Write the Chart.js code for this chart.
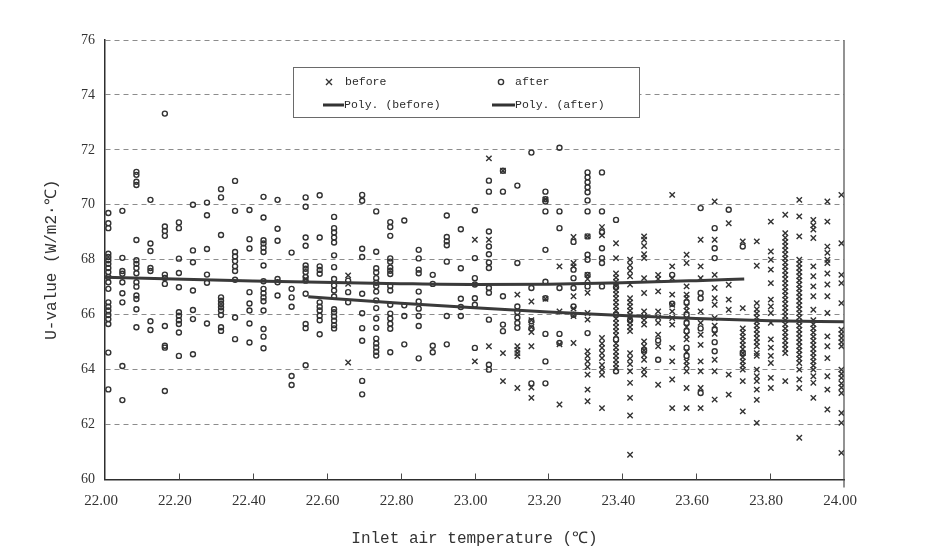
<!DOCTYPE html>
<html>
<head>
<meta charset="utf-8">
<title>U-value vs inlet air temperature</title>
<script src="https://cdn.jsdelivr.net/npm/chart.js@4.4.1/dist/chart.umd.min.js"></script>
<style>
  html, body { margin: 0; padding: 0; background: #ffffff; }
  #wrap { width: 929px; height: 559px; }
</style>
</head>
<body>
<div id="wrap"><canvas id="chart" width="929" height="559"></canvas></div>
<script>
// Column positions on the temperature axis (readings come in vertical columns)
const colX = [22.009, 22.047, 22.085, 22.123, 22.162, 22.200, 22.238, 22.276, 22.314, 22.352,
  22.391, 22.429, 22.467, 22.505, 22.543, 22.581, 22.620, 22.658, 22.696, 22.734,
  22.772, 22.810, 22.849, 22.887, 22.925, 22.963, 23.001, 23.039, 23.077, 23.116,
  23.154, 23.192, 23.230, 23.268, 23.306, 23.345, 23.383, 23.421, 23.459, 23.497,
  23.535, 23.574, 23.612, 23.650, 23.688, 23.726, 23.764, 23.802, 23.841, 23.879,
  23.917, 23.955, 23.993];

// "after" readings, one list per column
const afterCols = [
  [69.7, 69.33, 69.15, 68.22, 68.1, 67.98, 67.85, 67.7, 67.55, 67.37, 67.18, 66.94, 66.45, 66.29, 66.15, 65.99, 65.84, 65.66, 64.62, 63.28],
  [69.78, 68.07, 67.59, 67.49, 67.18, 66.78, 66.45, 64.13, 62.89],
  [71.2, 71.09, 70.84, 70.72, 68.72, 67.98, 67.85, 67.7, 67.51, 67.18, 67.02, 66.7, 66.57, 66.2, 65.54],
  [70.18, 68.59, 68.32, 67.7, 67.59, 65.76, 65.44],
  [73.32, 69.21, 69.05, 68.87, 67.46, 67.34, 67.12, 65.59, 64.87, 64.8, 63.22],
  [69.36, 69.15, 68.04, 67.52, 67.0, 66.09, 65.96, 65.8, 65.66, 65.35, 64.5],
  [70.0, 68.34, 67.91, 66.88, 66.17, 65.84, 64.56],
  [70.08, 69.62, 68.39, 67.46, 67.16, 65.68],
  [70.57, 70.27, 68.9, 66.63, 66.51, 66.39, 66.27, 66.15, 65.99, 65.54, 65.41],
  [70.87, 69.78, 68.28, 68.12, 67.95, 67.76, 67.59, 67.27, 65.9, 65.11],
  [69.81, 68.75, 68.41, 66.82, 66.41, 66.15, 65.68, 64.99],
  [70.29, 69.54, 68.71, 68.59, 68.44, 68.28, 67.79, 67.22, 66.94, 66.78, 66.63, 66.49, 66.15, 65.48, 65.2, 64.78],
  [70.18, 69.13, 68.69, 67.3, 67.18, 66.7],
  [68.26, 66.94, 66.63, 66.29, 63.77, 63.44],
  [70.27, 69.93, 68.81, 68.51, 67.79, 67.67, 67.55, 67.37, 67.24, 66.76, 65.66, 65.51, 64.16],
  [70.35, 68.81, 67.76, 67.63, 67.49, 66.45, 66.29, 66.15, 65.96, 65.8, 65.29],
  [69.56, 69.15, 68.99, 68.81, 68.63, 68.16, 67.73, 67.3, 67.06, 66.88, 66.66, 66.2, 66.09, 65.93, 65.78, 65.62, 65.5],
  [67.24, 66.82, 66.45],
  [70.36, 70.15, 68.4, 68.1, 66.76, 66.05, 65.51, 65.05, 63.59, 63.1],
  [69.76, 68.29, 67.69, 67.54, 67.33, 67.16, 67.04, 66.84, 66.52, 66.24, 65.86, 65.52, 65.13, 64.95, 64.81, 64.65, 64.51],
  [69.37, 69.19, 68.87, 68.05, 67.93, 67.72, 67.6, 67.48, 67.04, 66.88, 66.36, 66.04, 65.86, 65.67, 65.49, 64.63],
  [69.43, 66.34, 65.95, 64.92],
  [68.36, 68.05, 67.64, 67.51, 66.84, 66.48, 66.22, 65.95, 65.59, 64.41],
  [67.45, 67.12, 64.87, 64.63],
  [69.61, 68.83, 68.67, 68.53, 67.93, 65.95, 64.92],
  [69.11, 67.69, 66.58, 66.28, 65.95],
  [69.8, 68.06, 67.33, 67.1, 66.6, 66.36, 64.79],
  [70.88, 70.48, 69.03, 68.48, 68.2, 67.9, 67.7, 66.97, 66.8, 65.82, 64.18, 64.0],
  [71.24, 70.48, 66.67, 65.64, 65.4],
  [70.7, 67.88, 66.3, 66.1, 65.9, 65.7, 65.52],
  [71.9, 66.97, 65.76, 65.5, 63.5],
  [70.48, 70.2, 70.12, 69.76, 68.36, 67.2, 66.6, 65.3, 64.3, 63.5],
  [72.08, 69.76, 69.15, 66.97, 65.3, 64.97],
  [68.65, 67.64, 67.33, 66.97, 66.3, 66.0],
  [71.18, 71.0, 70.82, 70.64, 70.46, 70.16, 69.76, 68.85, 68.18, 68.0, 67.45, 67.03, 65.33],
  [71.18, 69.76, 69.0, 68.42, 68.06, 67.88, 67.03],
  [69.45, 67.0, 66.0, 65.1, 63.94],
  [65.8],
  [64.7],
  [65.06, 64.36],
  [67.45, 66.4],
  [66.45, 66.0, 65.7, 65.4, 64.8, 64.5],
  [69.88, 66.79, 66.6, 65.5, 63.15],
  [69.15, 68.42, 68.06, 65.45, 65.0, 64.67],
  [69.82],
  [68.48, 64.6],
  [], [], [], [], [], [], []
];

// "before" readings, one list per column
const beforeCols = [
  [], [], [], [], [], [], [], [], [], [], [], [], [], [],
  [67.3],
  [], [],
  [67.43, 67.12, 64.26],
  [], [], [], [], [], [], [], [],
  [68.73, 64.3],
  [71.69, 68.73, 64.85],
  [71.24, 64.6, 63.58],
  [66.73, 64.85, 64.72, 64.6, 64.49, 63.33],
  [66.48, 65.8, 65.55, 65.37, 64.85, 63.35, 62.97],
  [70.2, 66.58],
  [67.76, 66.12, 64.92, 62.73],
  [68.83, 67.88, 67.76, 66.67, 66.22, 65.95, 64.97],
  [68.85, 67.45, 67.3, 66.8, 66.06, 65.82, 64.67, 64.5, 64.3, 64.1, 63.82, 63.27, 62.85],
  [69.19, 68.89, 65.15, 64.95, 64.79, 64.6, 64.42, 64.17, 64.0, 63.81, 62.6],
  [68.6, 68.06, 67.5, 67.35, 67.2, 67.05, 66.9, 66.75, 66.6, 66.45, 66.3, 66.15, 65.85, 65.7, 65.55, 65.4, 65.25, 64.95, 64.8, 64.65, 64.5, 64.35, 64.2, 64.05],
  [68.0, 67.8, 67.6, 67.4, 67.1, 66.6, 66.45, 66.3, 66.15, 66.0, 65.85, 65.7, 65.55, 65.4, 64.6, 64.4, 64.2, 63.94, 63.52, 62.97, 62.33, 60.9],
  [68.85, 68.73, 68.5, 68.2, 68.06, 67.33, 66.79, 66.12, 65.95, 65.8, 65.64, 65.03, 64.85, 64.7, 64.53, 64.36, 64.0, 63.82],
  [67.45, 67.3, 66.85, 66.12, 65.9, 65.7, 65.27, 64.85, 63.45],
  [70.36, 67.76, 67.33, 66.73, 66.36, 66.12, 65.88, 65.64, 64.79, 64.3, 63.64, 62.6],
  [68.18, 67.88, 67.03, 66.73, 66.6, 66.3, 66.15, 65.85, 65.55, 65.27, 65.1, 64.65, 64.3, 64.15, 63.94, 63.33, 62.6],
  [68.73, 67.76, 67.33, 66.12, 65.7, 65.27, 64.9, 64.3, 63.94, 63.33, 62.6],
  [70.12, 68.73, 67.45, 66.97, 66.6, 66.36, 65.88, 65.6, 65.3, 64.36, 63.94, 62.91],
  [69.33, 67.09, 66.55, 66.18, 63.82, 63.09],
  [68.67, 66.24, 65.5, 65.35, 65.2, 65.05, 64.9, 64.75, 64.6, 64.45, 64.3, 64.15, 64.0, 63.58, 62.48],
  [68.67, 67.78, 66.42, 66.2, 66.05, 65.9, 65.75, 65.6, 65.45, 65.3, 65.15, 65.0, 64.85, 64.6, 64.5, 64.0, 63.76, 63.58, 63.27, 62.9, 62.06],
  [69.39, 68.3, 68.0, 67.64, 67.15, 66.55, 66.3, 66.06, 65.7, 65.1, 64.8, 64.5, 64.24, 63.7, 63.33],
  [69.64, 68.97, 68.8, 68.65, 68.5, 68.35, 68.2, 68.05, 67.9, 67.75, 67.6, 67.45, 67.3, 67.15, 67.0, 66.85, 66.7, 66.55, 66.4, 66.25, 66.1, 65.95, 65.8, 65.65, 65.5, 65.35, 65.2, 65.05, 64.9, 64.75, 64.6, 63.58],
  [70.18, 69.58, 68.85, 68.0, 67.85, 67.7, 67.55, 67.4, 67.25, 67.1, 66.95, 66.8, 66.65, 66.5, 66.35, 66.2, 66.05, 65.9, 65.75, 65.6, 65.45, 65.3, 65.15, 65.0, 64.85, 64.7, 64.55, 64.4, 64.24, 64.0, 63.64, 63.33, 61.52],
  [69.45, 69.25, 69.1, 68.79, 67.76, 67.4, 67.03, 66.67, 66.18, 65.8, 65.65, 65.5, 65.35, 65.2, 65.05, 64.9, 64.75, 64.6, 64.45, 64.3, 64.15, 64.0, 63.76, 63.52, 62.97],
  [70.12, 69.39, 68.48, 68.25, 68.0, 67.88, 67.5, 67.1, 66.67, 66.06, 65.21, 64.85, 64.42, 63.76, 63.27, 62.55],
  [70.36, 68.6, 67.45, 67.15, 66.42, 65.45, 65.3, 65.15, 65.0, 64.85, 64.0, 63.85, 63.7, 63.5, 63.35, 63.15, 62.42, 62.06, 60.97]
];

// Polynomial trend lines
const trendBeforeX = [22.55, 22.8, 23.0, 23.2, 23.4, 23.6, 23.8, 24.0];
const trendBeforeY = [66.65, 66.42, 66.25, 66.1, 65.97, 65.86, 65.78, 65.74];
const trendAfterX = [22.0, 22.4, 22.8, 23.0, 23.2, 23.4, 23.6, 23.73];
const trendAfterY = [67.36, 67.23, 67.13, 67.1, 67.11, 67.16, 67.24, 67.3];

// Axis ticks
const xTicks = [22.0, 22.2, 22.4, 22.6, 22.8, 23.0, 23.2, 23.4, 23.6, 23.8, 24.0];
const yTicks = [60, 62, 64, 66, 68, 70, 72, 74, 76];

const INK = '#333333';
const MONO = '"Liberation Mono", "DejaVu Sans Mono", monospace';
const SERIF = '"Liberation Serif", "DejaVu Serif", serif';

function toPoints(cols) {
  const pts = [];
  cols.forEach((vals, i) => {
    vals.forEach(v => pts.push({ x: colX[i], y: v }));
  });
  return pts;
}

function zipXY(xs, ys) {
  return xs.map((x, i) => ({ x: x, y: ys[i] }));
}

// Frame: right border, inside tick marks on the x axis
const framePlugin = {
  id: 'frame',
  beforeDraw(chart) {
    const ctx = chart.ctx;
    ctx.save();
    ctx.fillStyle = '#ffffff';
    ctx.fillRect(0, 0, chart.width, chart.height);
    ctx.restore();
  },
  afterDraw(chart) {
    const { ctx, chartArea } = chart;
    const xs = chart.scales.x;
    ctx.save();
    ctx.strokeStyle = '#4a4a4a';
    ctx.lineWidth = 1.2;
    ctx.beginPath();
    ctx.moveTo(chartArea.right, chartArea.top);
    ctx.lineTo(chartArea.right, chartArea.bottom + 8);
    ctx.stroke();
    ctx.lineWidth = 1;
    xTicks.slice(1, -1).forEach(t => {
      const px = Math.round(xs.getPixelForValue(t)) + 0.5;
      ctx.beginPath();
      ctx.moveTo(px, chartArea.bottom);
      ctx.lineTo(px, chartArea.bottom - 6);
      ctx.stroke();
    });
    ctx.restore();
  }
};

// Legend box drawn inside the plot area
const legendPlugin = {
  id: 'boxLegend',
  afterDatasetsDraw(chart) {
    const { ctx, chartArea } = chart;
    const L = chartArea.left + 188;
    const T = chartArea.top + 27;
    ctx.save();
    ctx.fillStyle = '#ffffff';
    ctx.fillRect(L, T, 346, 50);
    ctx.strokeStyle = '#6a6a6a';
    ctx.lineWidth = 1;
    ctx.strokeRect(L + 0.5, T + 0.5, 346, 50);

    ctx.strokeStyle = INK;
    ctx.fillStyle = '#2a2a2a';
    ctx.font = '11.5px ' + MONO;
    ctx.textBaseline = 'middle';

    // row 1: markers
    const r1 = T + 15;
    ctx.lineWidth = 1.4;
    ctx.beginPath();
    ctx.moveTo(L + 33, r1 - 3); ctx.lineTo(L + 39, r1 + 3);
    ctx.moveTo(L + 39, r1 - 3); ctx.lineTo(L + 33, r1 + 3);
    ctx.stroke();
    ctx.fillText('before', L + 52, r1);
    ctx.beginPath();
    ctx.arc(L + 208, r1, 2.6, 0, Math.PI * 2);
    ctx.stroke();
    ctx.fillText('after', L + 222, r1);

    // row 2: trend lines
    const r2 = T + 38;
    ctx.lineWidth = 3;
    ctx.beginPath();
    ctx.moveTo(L + 30, r2); ctx.lineTo(L + 51, r2);
    ctx.moveTo(L + 199, r2); ctx.lineTo(L + 222, r2);
    ctx.stroke();
    ctx.fillText('Poly. (before)', L + 51, r2);
    ctx.fillText('Poly. (after)', L + 222, r2);
    ctx.restore();
  }
};

const chart = new Chart(document.getElementById('chart'), {
  type: 'scatter',
  data: {
    datasets: [
      {
        label: 'Poly. (after)',
        data: zipXY(trendAfterX, trendAfterY),
        showLine: true,
        borderColor: '#3a3a3a',
        borderWidth: 3,
        pointRadius: 0,
        tension: 0.4,
        cubicInterpolationMode: 'monotone'
      },
      {
        label: 'Poly. (before)',
        data: zipXY(trendBeforeX, trendBeforeY),
        showLine: true,
        borderColor: '#3a3a3a',
        borderWidth: 3,
        pointRadius: 0,
        tension: 0.4,
        cubicInterpolationMode: 'monotone'
      },
      {
        label: 'after',
        data: toPoints(afterCols),
        pointStyle: 'circle',
        pointRadius: 2.5,
        borderWidth: 1.4,
        borderColor: INK,
        backgroundColor: 'rgba(0,0,0,0)'
      },
      {
        label: 'before',
        data: toPoints(beforeCols),
        pointStyle: 'crossRot',
        pointRadius: 3.8,
        borderWidth: 1.4,
        borderColor: INK
      }
    ]
  },
  options: {
    responsive: false,
    animation: false,
    devicePixelRatio: 1,
    layout: { padding: { top: 40, right: 85, left: 0, bottom: 0 } },
    plugins: {
      legend: { display: false },
      tooltip: { enabled: false }
    },
    scales: {
      x: {
        type: 'linear',
        min: 22,
        max: 24,
        afterFit: s => { s.height = 79.5; },
        afterBuildTicks: s => { s.ticks = xTicks.map(v => ({ value: v })); },
        ticks: {
          padding: 13,
          labelOffset: -4,
          color: '#333',
          font: { family: SERIF, size: 15 },
          callback: v => v.toFixed(2)
        },
        grid: { display: true, drawOnChartArea: false, drawTicks: false },
        border: { display: true, color: '#2e2e2e', width: 1.5 },
        title: {
          display: true,
          text: 'Inlet air temperature (℃)',
          color: '#333',
          font: { family: MONO, size: 16 },
          padding: { top: 0, bottom: 11 }
        }
      },
      y: {
        type: 'linear',
        min: 60,
        max: 76,
        afterFit: s => { s.width = 105; },
        afterBuildTicks: s => { s.ticks = yTicks.map(v => ({ value: v })); },
        ticks: {
          padding: 10,
          color: '#333',
          font: { family: SERIF, size: 14 },
          callback: v => String(v)
        },
        grid: { color: '#8c8c8c', lineWidth: 1, drawTicks: false },
        border: { display: true, color: '#2e2e2e', width: 1.5, dash: [5, 4] },
        title: {
          display: true,
          text: 'U-value (W/m2·℃)',
          color: '#333',
          font: { family: MONO, size: 16 },
          padding: { top: 42, bottom: 0 }
        }
      }
    }
  },
  plugins: [framePlugin, legendPlugin]
});
</script>
</body>
</html>
